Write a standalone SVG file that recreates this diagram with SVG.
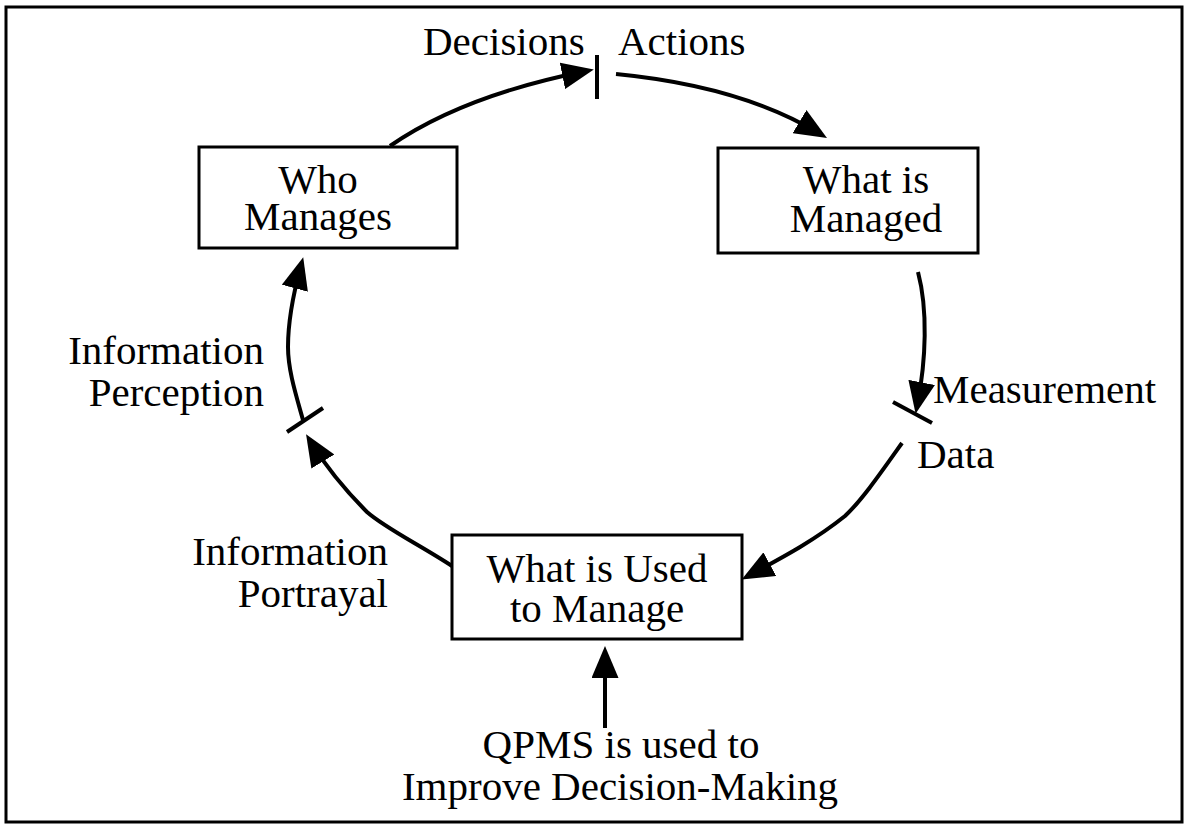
<svg xmlns="http://www.w3.org/2000/svg" width="1186" height="824" viewBox="0 0 1186 824">
  <style>
    .frame { fill: #ffffff; stroke: #000000; stroke-width: 3; }
    .box { fill: #ffffff; stroke: #000000; stroke-width: 3; }
    .lbl { font-family: "Liberation Serif", "Times New Roman", serif; font-size: 41px; fill: #000000; }
    .mid { text-anchor: middle; }
    .end { text-anchor: end; }
    .link { fill: none; stroke: #000000; stroke-width: 4; stroke-linecap: butt; stroke-linejoin: round; }
    .tick { fill: none; stroke: #000000; stroke-width: 4; }
  </style>
  <defs>
    <marker id="head" viewBox="0 0 32 27" refX="22" refY="13.5" markerWidth="32" markerHeight="27" markerUnits="userSpaceOnUse" orient="auto">
      <path d="M0,0 L32,13.5 L0,27 Z" fill="#000000"/>
    </marker>
  </defs>

  <!-- outer border -->
  <rect class="frame" x="6" y="7" width="1176" height="815"/>

  <!-- nodes -->
  <g id="who-manages">
    <rect class="box" x="199" y="147" width="258" height="101"/>
    <text class="lbl mid" x="318" y="193">Who</text>
    <text class="lbl mid" x="318" y="230">Manages</text>
  </g>
  <g id="what-is-managed">
    <rect class="box" x="718" y="148" width="260" height="105"/>
    <text class="lbl mid" x="866" y="193">What is</text>
    <text class="lbl mid" x="866" y="232">Managed</text>
  </g>
  <g id="what-is-used">
    <rect class="box" x="452" y="535" width="290" height="104"/>
    <text class="lbl mid" x="597" y="582">What is Used</text>
    <text class="lbl mid" x="597" y="622">to Manage</text>
  </g>

  <!-- labels on the cycle -->
  <g id="decisions"><text class="lbl" x="423" y="55">Decisions</text></g>
  <g id="actions"><text class="lbl" x="618" y="55">Actions</text></g>
  <g id="measurement"><text class="lbl" x="933" y="403">Measurement</text></g>
  <g id="data"><text class="lbl" x="917" y="468">Data</text></g>
  <g id="info-perception">
    <text class="lbl end" x="264" y="364">Information</text>
    <text class="lbl end" x="264" y="406">Perception</text>
  </g>
  <g id="info-portrayal">
    <text class="lbl end" x="388" y="565">Information</text>
    <text class="lbl end" x="388" y="607">Portrayal</text>
  </g>
  <g id="qpms">
    <text class="lbl mid" x="621" y="758">QPMS is used to</text>
    <text class="lbl mid" x="620" y="800">Improve Decision-Making</text>
  </g>

  <!-- connectors -->
  <g id="connectors">
    <path class="link" d="M390,146 Q462,96 584,71.5" marker-end="url(#head)"/>
    <line class="tick" x1="597" y1="55" x2="597" y2="99"/>
    <path class="link" d="M616,74 Q740,86 818.4,132.9" marker-end="url(#head)"/>
    <path class="link" d="M918,272 C928,310 926,360 917.5,404" marker-end="url(#head)"/>
    <line class="tick" x1="893" y1="402" x2="932" y2="423"/>
    <path class="link" d="M902,443 C880,474 862,500 845,516 C815,540 785,556 750.5,574.7" marker-end="url(#head)"/>
    <path class="link" d="M452,566 C420,545 385,528 367,512 C345,490 325,465 311.3,442.8" marker-end="url(#head)"/>
    <line class="tick" x1="287" y1="432" x2="323" y2="408"/>
    <path class="link" d="M303,420 C296,395 288,370 288,347 C288,320 293,295 300.6,267" marker-end="url(#head)"/>
    <path class="link" d="M605,728 L605,656" marker-end="url(#head)"/>
  </g>
</svg>
